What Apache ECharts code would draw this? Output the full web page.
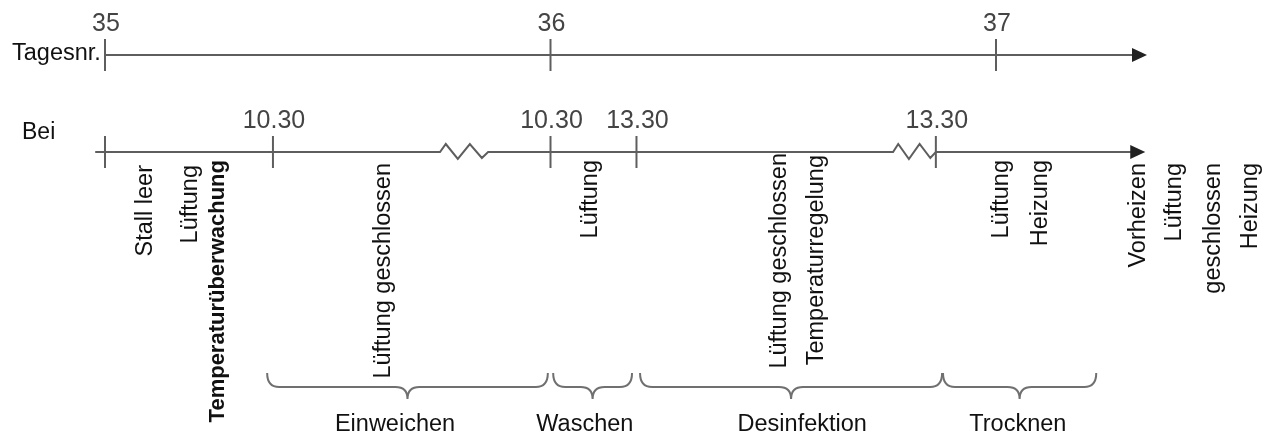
<!DOCTYPE html>
<html>
<head>
<meta charset="utf-8">
<script src="https://cdn.jsdelivr.net/npm/echarts@6/dist/echarts.min.js"></script>
<style>
html, body { margin: 0; padding: 0; background: #fff; }
#main { width: 1264px; height: 434px; }
</style>
</head>
<body>
<div id="main"></div>
<script>
// x-Achse in Tagen (Tag 35 .. 37), Abstände schematisch wie im Original
var dayNumbers = ['35', '36', '37'];
var dayPos = [35, 36, 37];
var timeLabels = ['', '10.30', '10.30', '13.30', '13.30'];
var timePos = [35.0, 35.377, 36.0, 36.193, 36.865];
var breakSpans = [[35.752, 35.860], [36.769, 36.865]];
var activities = ['Stall leer', 'Lüftung', 'Temperaturüberwachung', 'Lüftung geschlossen', 'Lüftung',
  'Lüftung geschlossen', 'Temperaturregelung', 'Lüftung', 'Heizung', 'Vorheizen', 'Lüftung', 'geschlossen', 'Heizung'];
var activityPos = [35.092, 35.191, 35.254, 35.626, 36.089, 36.513, 36.598, 37.013, 37.099, 37.319, 37.400, 37.489, 37.572];
var phaseNames = ['Einweichen', 'Waschen', 'Desinfektion', 'Trocknen'];
var phaseStart = [35.364, 36.006, 36.201, 36.881];
var phaseEnd = [35.994, 36.183, 36.879, 37.225];
var phaseLabelPos = [35.651, 36.077, 36.565, 37.049];

// layout (Zeilen in Pixeln, y-Achse 0..434)
var rowY = [55, 152];
var axisStart = [35.0, 34.978];
var axisEnd = [37.339, 37.335];
var labelTop = [165, 165, 160, 163, 160, 153, 155, 160, 160, 163, 163, 163, 163];
var FONT = '"Liberation Sans", Arial, sans-serif';

var myChart = echarts.init(document.getElementById('main'));

function renderAxis(params, api) {
  var row = api.value(0);
  var y = rowY[row];
  var s = api.coord([axisStart[row], y]);
  var pts = [s];
  if (row === 1) {
    breakSpans.forEach(function (b) {
      var a = api.coord([b[0], y]), e = api.coord([b[1], y]);
      var w = e[0] - a[0];
      pts.push(a, [a[0] + 0.12 * w, a[1] - 8], [a[0] + 0.37 * w, a[1] + 7],
        [a[0] + 0.62 * w, a[1] - 8], [a[0] + 0.87 * w, a[1] + 6], e);
    });
  }
  var end = api.coord([axisEnd[row], y]);
  pts.push([end[0] - 12, end[1]]);
  return {
    type: 'group',
    children: [
      { type: 'polyline', shape: { points: pts }, style: { stroke: '#5e5e5e', lineWidth: 2, fill: null } },
      { type: 'polygon', shape: { points: [[end[0] - 15, end[1] - 7], [end[0], end[1]], [end[0] - 15, end[1] + 7]] },
        style: { fill: '#222' } }
    ]
  };
}

function renderTick(params, api) {
  var row = api.value(1);
  var c = api.coord([api.value(0), rowY[row]]);
  var label = row === 0 ? dayNumbers[params.dataIndex] : timeLabels[params.dataIndex - dayPos.length];
  return {
    type: 'group',
    children: [
      { type: 'line', shape: { x1: c[0], y1: c[1] - 16, x2: c[0], y2: c[1] + 16 }, style: { stroke: '#5e5e5e', lineWidth: 2 } },
      { type: 'text', x: c[0] + 1, y: c[1] - 18, style: { text: label, font: '25px ' + FONT, fill: '#444',
        align: 'center', verticalAlign: 'bottom' } }
    ]
  };
}

function renderActivity(params, api) {
  var i = params.dataIndex;
  var c = api.coord([api.value(0), labelTop[i]]);
  return {
    type: 'text', x: c[0], y: c[1], rotation: Math.PI / 2,
    style: { text: activities[i], font: (i === 2 ? 'bold 22px ' : '23.5px ') + FONT, fill: '#111',
      align: 'right', verticalAlign: 'middle' }
  };
}

function renderPhase(params, api) {
  var i = params.dataIndex;
  var yT = 373, yH = 387, yB = 399;
  var p0 = api.coord([phaseStart[i], yT]), p1 = api.coord([phaseEnd[i], yH]);
  var x0 = p0[0], x1 = p1[0], xm = (x0 + x1) / 2;
  var yTp = p0[1], yHp = p1[1], yBp = api.coord([xm, yB])[1];
  var r = Math.min(12, (x1 - x0) / 6);
  var d = 'M' + x0 + ' ' + yTp + ' Q' + x0 + ' ' + yHp + ' ' + (x0 + r) + ' ' + yHp +
    ' L' + (xm - r) + ' ' + yHp + ' Q' + xm + ' ' + yHp + ' ' + xm + ' ' + yBp +
    ' Q' + xm + ' ' + yHp + ' ' + (xm + r) + ' ' + yHp +
    ' L' + (x1 - r) + ' ' + yHp + ' Q' + x1 + ' ' + yHp + ' ' + x1 + ' ' + yTp;
  var t = api.coord([phaseLabelPos[i], 425]);
  return {
    type: 'group',
    children: [
      { type: 'path', shape: { pathData: d }, style: { stroke: '#707070', lineWidth: 2, fill: null } },
      { type: 'text', x: t[0], y: t[1], style: { text: phaseNames[i], font: '23.5px ' + FONT, fill: '#111',
        align: 'center', verticalAlign: 'middle' } }
    ]
  };
}

var tickData = dayPos.map(function (d) { return [d, 0]; })
  .concat(timePos.map(function (t) { return [t, 1]; }));

myChart.setOption({
  animation: false,
  grid: { left: 0, right: 0, top: 0, bottom: 0 },
  xAxis: { type: 'value', min: 35 - 105 / 445.5, max: 35 + 1159 / 445.5, show: false },
  yAxis: { type: 'value', min: 0, max: 434, inverse: true, show: false },
  graphic: [
    { type: 'text', left: 12, top: 42, style: { text: 'Tagesnr.', font: '23.5px ' + FONT, fill: '#111' } },
    { type: 'text', left: 22, top: 121, style: { text: 'Bei', font: '23px ' + FONT, fill: '#111' } }
  ],
  series: [
    { type: 'custom', name: 'Achsen', renderItem: renderAxis, data: [[0], [1]] },
    { type: 'custom', name: 'Teilstriche', renderItem: renderTick, data: tickData },
    { type: 'custom', name: 'Maßnahmen', renderItem: renderActivity, data: activityPos.map(function (p) { return [p]; }) },
    { type: 'custom', name: 'Phasen', renderItem: renderPhase, data: phaseStart.map(function (p, i) { return [p, phaseEnd[i]]; }) }
  ]
});
</script>
</body>
</html>
